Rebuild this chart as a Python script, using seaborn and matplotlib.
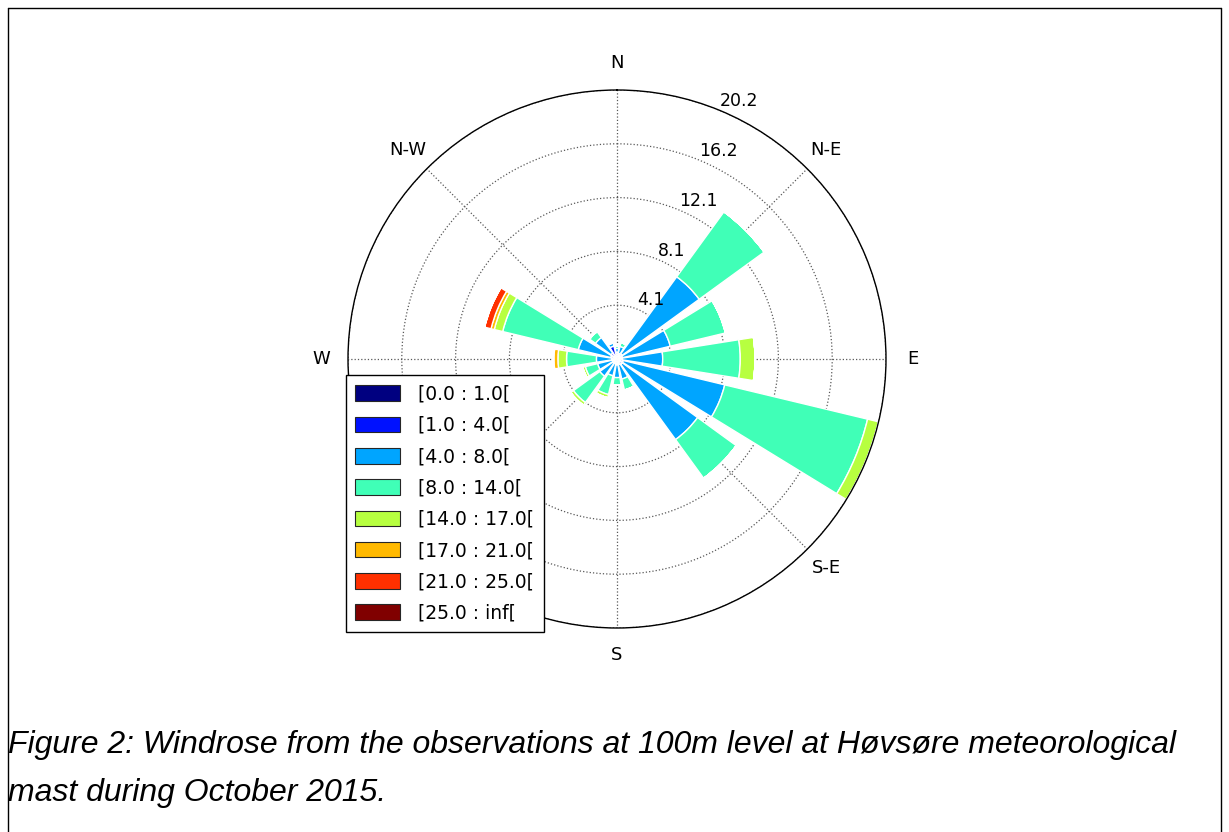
"""
Windrose of 100 m wind at Hovsore, October 2015 (figure 2 of the report).
Stacked polar bars: frequency (%) per direction sector, split by speed bin.
"""

import matplotlib
matplotlib.use("Agg")
import matplotlib.pyplot as plt
from matplotlib.lines import Line2D
from matplotlib.patches import Patch
import numpy as np
import seaborn as sns

# ── data ──────────────────────────────────────────────────────────────────────
DIRECTIONS = ["N", "NNE", "NE", "ENE", "E", "ESE", "SE", "SSE",
              "S", "SSW", "SW", "WSW", "W", "WNW", "NW", "NNW"]
DIR_ANGLES = [0, 22.5, 45, 67.5, 90, 112.5, 135, 157.5,
              180, 202.5, 225, 247.5, 270, 292.5, 315, 337.5]

SPEED_BINS = ["[0.0 : 1.0[", "[1.0 : 4.0[", "[4.0 : 8.0[", "[8.0 : 14.0[",
              "[14.0 : 17.0[", "[17.0 : 21.0[", "[21.0 : 25.0[", "[25.0 : inf["]

# frequency (%) per direction, one list per speed bin
FREQ_0_1   = [0.15, 0.12, 0.10, 0.10, 0.10, 0.12, 0.12, 0.12,
              0.12, 0.10, 0.10, 0.10, 0.10, 0.12, 0.15, 0.25]
FREQ_1_4   = [0.35, 0.30, 0.35, 0.30, 0.30, 0.35, 0.35, 0.30,
              0.30, 0.25, 0.30, 0.25, 0.30, 0.35, 0.40, 0.75]
FREQ_4_8   = [0.30, 0.55, 7.20, 3.72, 3.04, 7.87, 7.03, 1.13,
              0.98, 0.95, 1.20, 1.15, 1.15, 2.53, 1.45, 0.25]
FREQ_8_14  = [0.20, 0.30, 6.05, 4.28, 5.84, 11.06, 3.60, 0.85,
              0.55, 1.45, 2.45, 0.95, 2.25, 5.85, 0.55, 0.00]
FREQ_14_17 = [0.00, 0.00, 0.00, 0.00, 1.12, 0.85, 0.00, 0.00,
              0.00, 0.25, 0.25, 0.20, 0.65, 0.65, 0.00, 0.00]
FREQ_17_21 = [0.00, 0.00, 0.00, 0.00, 0.00, 0.00, 0.00, 0.00,
              0.00, 0.00, 0.00, 0.00, 0.30, 0.25, 0.00, 0.00]
FREQ_21_25 = [0.00, 0.00, 0.00, 0.00, 0.00, 0.00, 0.00, 0.00,
              0.00, 0.00, 0.00, 0.00, 0.10, 0.50, 0.00, 0.00]
FREQ_25_UP = [0.00] * 16

FREQS = [FREQ_0_1, FREQ_1_4, FREQ_4_8, FREQ_8_14,
         FREQ_14_17, FREQ_17_21, FREQ_21_25, FREQ_25_UP]

RTICKS       = [4.05, 8.1, 12.15, 16.2, 20.25]
RTICK_LABELS = ["4.1", "8.1", "12.1", "16.2", "20.2"]

COMPASS_ANGLES = [0, 45, 90, 135, 180, 225, 270, 315]
COMPASS_LABELS = ["N", "N-E", "E", "S-E", "S", "S-W", "W", "N-W"]

CAPTION_LINES = ["Figure 2: Windrose from the observations at 100m level at Høvsøre meteorological",
                 "mast during October 2015."]

# ── style ─────────────────────────────────────────────────────────────────────
sns.set_style("white")
plt.rcParams["font.family"] = ["DejaVu Sans"]
plt.rcParams["text.color"] = "black"

W, H = 1229, 832
palette = sns.color_palette(list(plt.cm.jet(np.linspace(0, 1, len(SPEED_BINS)))))

fig = plt.figure(figsize=(W / 100, H / 100), dpi=100)
fig.patch.set_facecolor("white")

# polar axes: centre (617, 359) px, radius 269 px
cx, cy, rad = 617, 359, 269
ax = fig.add_axes([(cx - rad) / W, 1 - (cy + rad) / H, 2 * rad / W, 2 * rad / H],
                  projection="polar")
ax.set_theta_zero_location("N")
ax.set_theta_direction(-1)
ax.set_facecolor("white")

# ── bars ──────────────────────────────────────────────────────────────────────
theta = np.deg2rad(DIR_ANGLES)
width = np.deg2rad(22.5 * 0.8)
bottom = np.zeros(len(DIRECTIONS))
for label, vals, color in zip(SPEED_BINS, FREQS, palette):
    vals = np.asarray(vals, dtype=float)
    ax.bar(theta, vals, width=width, bottom=bottom, color=color,
           edgecolor="white", linewidth=1.0, label=label, zorder=2)
    bottom += vals

rmax = bottom.max()
ax.set_ylim(0, rmax)

# ── grid / ticks ──────────────────────────────────────────────────────────────
ax.set_xticks(np.deg2rad(COMPASS_ANGLES))
ax.set_xticklabels([])
ax.set_yticks(RTICKS)
ax.set_yticklabels([])
ax.grid(True, color="0.35", linestyle=":", linewidth=0.9)
ax.spines["polar"].set_color("black")
ax.spines["polar"].set_linewidth(1.0)

for r, lab in zip(RTICKS, RTICK_LABELS):
    ax.text(np.deg2rad(22.5), r, lab, ha="left", va="bottom", fontsize=12.5,
            color="black", zorder=3)

for ang, lab in zip(COMPASS_ANGLES, COMPASS_LABELS):
    ax.text(np.deg2rad(ang), rmax * 1.1, lab, ha="center", va="center",
            fontsize=13, color="black", clip_on=False)

# ── legend ────────────────────────────────────────────────────────────────────
handles = [Patch(facecolor=c, edgecolor="0.15", linewidth=0.8) for c in palette]
leg = fig.legend(handles, SPEED_BINS, loc="lower left",
                 bbox_to_anchor=(346 / W, 1 - 632 / H), bbox_transform=fig.transFigure,
                 fontsize=13.5, frameon=True, fancybox=False, framealpha=1,
                 edgecolor="black", handlelength=2.4, handleheight=0.9,
                 handletextpad=0.96, labelspacing=0.655, borderpad=0.5,
                 borderaxespad=0)
leg.get_frame().set_linewidth(1.0)
for t in leg.get_texts():
    t.set_color("black")

# ── caption and page frame ────────────────────────────────────────────────────
for line, y in zip(CAPTION_LINES, [753, 801]):
    fig.text(8 / W, 1 - y / H, line, ha="left", va="baseline", fontsize=23,
             family=["Liberation Sans", "DejaVu Sans"], style="italic", color="black")

for xs, ys in [([8, 8], [8, H]), ([8, 1221], [8, 8]), ([1221, 1221], [8, H])]:
    fig.add_artist(Line2D([x / W for x in xs], [1 - y / H for y in ys],
                          transform=fig.transFigure, color="black", linewidth=1.0))

fig.savefig("out.png", dpi=100, facecolor="white")
